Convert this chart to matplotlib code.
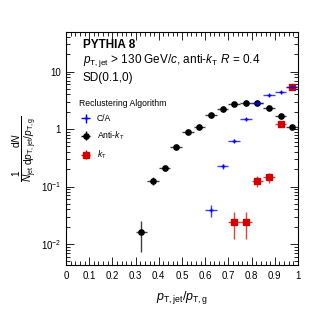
import matplotlib
matplotlib.use('Agg')
import matplotlib.pyplot as plt
import numpy as np
from matplotlib.ticker import FixedLocator, LogLocator, NullFormatter, MultipleLocator

plt.rcParams['font.family'] = ['Liberation Sans', 'DejaVu Sans']
plt.rcParams['mathtext.fontset'] = 'custom'
plt.rcParams['mathtext.rm'] = 'Liberation Sans'
plt.rcParams['mathtext.it'] = 'Liberation Sans:italic'
plt.rcParams['mathtext.bf'] = 'Liberation Sans:bold'

# bin centres and values
half_width = 0.025

antikt_x = [0.325, 0.375, 0.425, 0.475, 0.525, 0.575, 0.625, 0.675, 0.725, 0.775, 0.825, 0.875, 0.925, 0.975]
antikt_y = [0.0159, 0.126, 0.21, 0.48, 0.88, 1.10, 1.78, 2.21, 2.74, 2.88, 2.85, 2.36, 1.69, 1.07]
antikt_err = [0.0087, 0.02, 0.025, 0.03, 0.04, 0.05, 0.06, 0.07, 0.08, 0.08, 0.08, 0.07, 0.06, 0.05]

ca_x = [0.625, 0.675, 0.725, 0.775, 0.825, 0.875, 0.925, 0.975]
ca_y = [0.039, 0.225, 0.63, 1.48, 2.88, 3.93, 4.43, 5.48]
ca_err = [0.009, 0.02, 0.04, 0.06, 0.08, 0.1, 0.1, 0.1]

kt_x = [0.725, 0.775, 0.825, 0.875, 0.925, 0.975]
kt_y = [0.0244, 0.0244, 0.125, 0.145, 1.21, 5.35]
kt_err = [0.012, 0.012, 0.025, 0.03, 0.06, 0.1]

fig = plt.figure(figsize=(3.32, 3.19), dpi=100)
ax = fig.add_axes([0.1988, 0.1693, 0.6988, 0.7304])


def draw(x, y, err, color, marker, ms, label):
    ax.errorbar(x, y, xerr=half_width, yerr=err, fmt='none', ecolor=color,
                elinewidth=1.0, alpha=0.75, capsize=0)
    ax.plot(x, y, linestyle='none', marker=marker, color=color, ms=ms,
            mew=1.0)
    return ax.errorbar([], [], xerr=[], yerr=[], fmt=marker, color=color,
                       ms=ms, elinewidth=1.0, label=label)


h_kt = draw(kt_x, kt_y, kt_err, '#d40000', 's', 3.8, r'$k_{\rm T}$')
h_anti = draw(antikt_x, antikt_y, antikt_err, 'black', 'o', 3.8, r'Anti-$k_{\rm T}$')
h_ca = draw(ca_x, ca_y, ca_err, '#0000ee', '+', 3.5, 'C/A')

ax.set_yscale('log')
ax.set_xlim(0, 1)
ax.set_ylim(0.0043, 49)

ax.xaxis.set_minor_locator(MultipleLocator(0.02))
ax.set_xticks([0, 0.1, 0.2, 0.3, 0.4, 0.5, 0.6, 0.7, 0.8, 0.9, 1])
ax.set_xticklabels(['0', '0.1', '0.2', '0.3', '0.4', '0.5', '0.6', '0.7', '0.8', '0.9', '1'])
ax.yaxis.set_major_locator(FixedLocator([0.01, 0.1, 1, 10]))
ax.yaxis.set_minor_locator(LogLocator(base=10, subs=np.arange(2, 10)))
ax.yaxis.set_minor_formatter(NullFormatter())
ax.set_yticklabels([r'$10^{-2}$', r'$10^{-1}$', '1', '10'])

ax.tick_params(which='both', direction='in', top=True, right=True, labelsize=7, width=0.6)
ax.tick_params(which='major', length=6)
ax.tick_params(which='minor', length=3)
ax.tick_params(axis='x', pad=4)
for s in ax.spines.values():
    s.set_linewidth(0.8)

ax.set_xlabel(r'$p_{\rm T,jet}/p_{\rm T,g}$', fontsize=9, labelpad=6)
ax.set_ylabel(r'$\frac{1}{N_{\rm jet}}\frac{{\rm d}N}{{\rm d}p_{\rm T,jet}/p_{\rm T,g}}$',
              fontsize=10.5, labelpad=1)

ax.text(0.073, 0.944, 'PYTHIA 8', transform=ax.transAxes, fontsize=8.5,
        fontweight='bold', va='center')
ax.text(0.073, 0.876, r'$p_{\rm T,jet}$ > 130 GeV/$c$, anti-$k_{\rm T}$ $R$ = 0.4',
        transform=ax.transAxes, fontsize=8.5, va='center')
ax.text(0.073, 0.803, 'SD(0.1,0)', transform=ax.transAxes, fontsize=8.5, va='center')

leg = ax.legend(handles=[h_ca, h_anti, h_kt], labels=['C/A', r'Anti-$k_{\rm T}$', r'$k_{\rm T}$'],
                title='Reclustering Algorithm', loc='upper left',
                bbox_to_anchor=(0.04, 0.728), frameon=False, fontsize=6.2,
                title_fontsize=6.2, alignment='left', handlelength=1.6,
                handletextpad=0.5, labelspacing=0.75, borderaxespad=0)

fig.savefig('out.png', dpi=100)
